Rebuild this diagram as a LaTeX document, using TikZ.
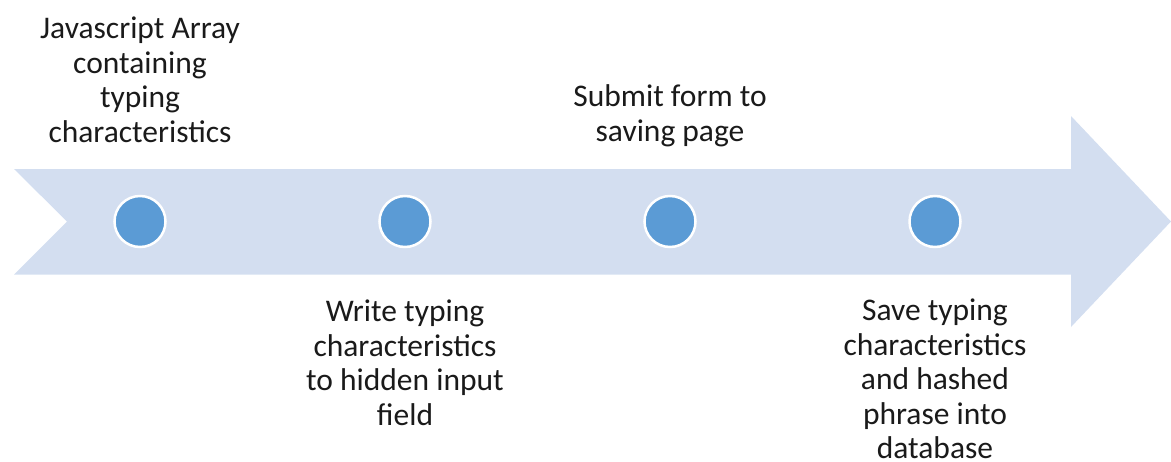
\documentclass[tikz,border=0pt]{standalone}
\usepackage{fontspec}
\setmainfont{Carlito}
\definecolor{bandfill}{HTML}{D3DEF0}
\definecolor{dotfill}{HTML}{5B9BD5}
\definecolor{labeltext}{HTML}{1A1A1A}
\begin{document}
\begin{tikzpicture}[x=1pt,y=-1pt,
  band/.style={fill=bandfill, draw=none},
  milestone/.style={circle, fill=dotfill, draw=white, line width=2.5pt,
    minimum size=51pt, inner sep=0pt},
  label/.style={align=center, text=labeltext,
    font=\fontsize{31.5pt}{34.5pt}\selectfont, inner sep=0pt}]
  \useasboundingbox (0,0) rectangle (1171,461);
  % timeline band with notched tail and arrow head
  \fill[band] (14,169) -- (1071,169) -- (1071,116) -- (1171,221.5)
    -- (1071,327) -- (1071,274.5) -- (14,274.5) -- (67,221.5) -- cycle;
  % milestones
  \node[milestone] (c1) at (140,221.5) {};
  \node[milestone] (c2) at (405,221.5) {};
  \node[milestone] (c3) at (670,221.5) {};
  \node[milestone] (c4) at (935,221.5) {};
  % captions
  \node[label] (t1) at (140,80) {Javascript Array\\containing\\typing\\characteristics};
  \node[label] (t2) at (670,116) {Submit form to\\saving page};
  \node[label] (t3) at (405,363) {Write typing\\characteristics\\to hidden input\\field};
  \node[label] (t4) at (935,379) {Save typing\\characteristics\\and hashed\\phrase into\\database};
\end{tikzpicture}
\end{document}
